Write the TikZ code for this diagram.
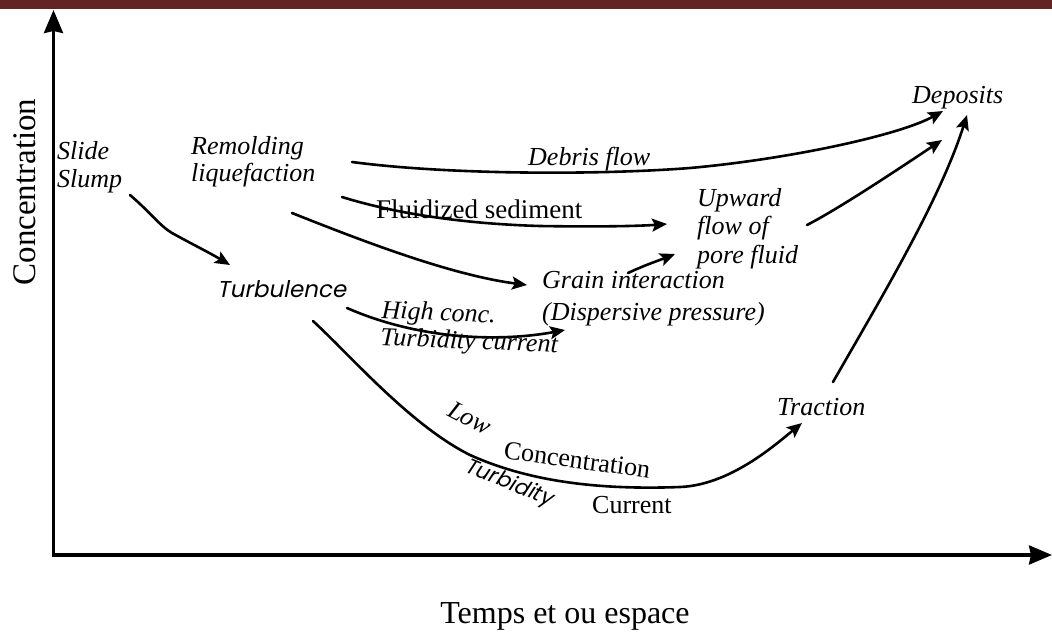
\documentclass[tikz,border=0pt]{standalone}
\usepackage{fontspec}
\setmainfont{Liberation Serif}
\newfontfamily\gothic[FakeSlant=0.2]{Poppins}
\usetikzlibrary{arrows.meta}
\definecolor{barred}{HTML}{632523}
\tikzset{
  flow/.style={line width=2.6pt, line cap=round, -{Stealth[length=15pt,width=13pt,inset=3pt]}},
  axisline/.style={line width=3.2pt, -{Stealth[length=23pt,width=19pt,inset=2pt]}},
  lab/.style={inner sep=0pt, anchor=base west, align=left,
    font=\fontsize{26}{28}\selectfont\itshape},
  uplab/.style={inner sep=0pt, anchor=base west, align=left,
    font=\fontsize{26}{28}\selectfont},
  goth/.style={inner sep=0pt, anchor=base west,
    font=\fontsize{23}{26}\selectfont\gothic},
}
\begin{document}
\begin{tikzpicture}[x=1pt,y=-1pt]
\useasboundingbox (0,0) rectangle (1052,635);
\fill[barred] (0,0) rectangle (1052,8.5);

% axes
\coordinate (origin) at (53.5,555);
\coordinate (ytip) at (53.5,10);
\coordinate (xtip) at (1052,555);
\draw[axisline] (origin) -- (ytip);
\draw[axisline] ([xshift=-1.6pt]origin) -- (xtip);
\node[inner sep=0pt, rotate=90, font=\fontsize{33}{36}\selectfont] (ylab) at (25,192) {Concentration};
\node[inner sep=0pt, anchor=base, font=\fontsize{32}{36}\selectfont] (xlab) at (565,623) {Temps et ou espace};

% labels (multi-line nodes: base = last line)
\node[lab] (slide) at (57,187) {Slide\\Slump};
\node[lab, font=\fontsize{26}{27}\selectfont\itshape] (remold) at (191,181) {Remolding\\liquefaction};
\node[goth] (turb) at (217,297) {Turbulence};
\node[lab] (debris) at (528,165) {Debris flow};
\node[uplab, font=\fontsize{27}{28}\selectfont] (fluid) at (376,218) {Fluidized sediment};
\node[lab, font=\fontsize{26}{28.5}\selectfont\itshape] (upward) at (697,263) {Upward\\flow of\\pore fluid};
\node[lab] (deposits) at (912,103) {Deposits};
\node[lab, font=\fontsize{26}{32}\selectfont\itshape] (grain) at (542,320) {Grain interaction\\(Dispersive pressure)};
\node[lab, font=\fontsize{26}{27}\selectfont\itshape, rotate=-2.5] (highc) at (380,345) {High conc.\\Turbidity current};
\node[lab] (traction) at (777,415) {Traction};
\node[lab, rotate=-28] (low) at (446,415) {Low};
\node[uplab, rotate=-8] (lconc) at (503,458) {Concentration};
\node[goth, font=\fontsize{21.5}{24}\selectfont\gothic, rotate=-22] (lturb) at (463,471) {Turbidity};
\node[uplab] (lcurr) at (592,513) {Current};

% connector end points
\coordinate (a1) at (130,195);  \coordinate (a2) at (230,265);
\coordinate (b1) at (352,162);  \coordinate (b2) at (943,111);
\coordinate (c1) at (342,197);  \coordinate (c2) at (667,224);
\coordinate (d1) at (292,213);  \coordinate (d2) at (527,285);
\coordinate (e1) at (628,273);  \coordinate (e2) at (675,254);
\coordinate (f1) at (807,225);  \coordinate (f2) at (942,140);
\coordinate (g1) at (347,308);  \coordinate (g2) at (565,330);
\coordinate (h1) at (313,321);  \coordinate (h2) at (802,423);
\coordinate (k1) at (833,382);  \coordinate (k2) at (967,115);

% connectors
\draw[flow] (a1) .. controls (150,212) and (160,226) .. (172,233)
                 .. controls (190,243) and (210,253) .. (a2);
\draw[flow] (b1) .. controls (450,175) and (600,175) .. (690,168)
                 .. controls (790,159) and (900,135) .. (b2);
\draw[flow] (c1) .. controls (400,215) and (470,224) .. (540,226)
                 .. controls (600,227) and (640,226) .. (c2);
\draw[flow] (d1) .. controls (360,240) and (450,275) .. (d2);
\draw[flow] (e1) .. controls (645,265) and (660,260) .. (e2);
\draw[flow] (f1) .. controls (840,208) and (900,168) .. (f2);
\draw[flow] (g1) .. controls (420,340) and (500,342) .. (g2);
\draw[flow] (h1) .. controls (350,355) and (410,425) .. (470,455)
                 .. controls (530,482) and (600,490) .. (680,487)
                 .. controls (730,485) and (775,445) .. (h2);
\draw[flow] (k1) .. controls (880,300) and (940,200) .. (k2);
\end{tikzpicture}
\end{document}
